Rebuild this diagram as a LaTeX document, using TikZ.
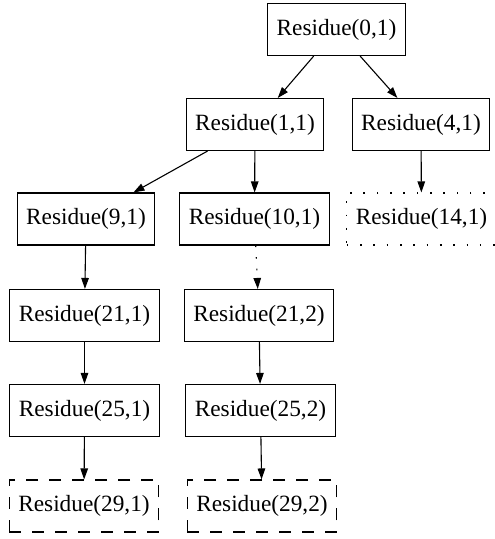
\documentclass[tikz,border=0pt]{standalone}
\usepackage{fontspec}
\setmainfont{Liberation Serif}
\usepackage{tikz}
\usetikzlibrary{arrows.meta}

\tikzset{
    res/.style={draw, line width=1.1pt, inner xsep=9pt, inner ysep=0pt,
        minimum height=52pt, font=\fontsize{23.3}{28}\selectfont},
    resdot/.style={res, dash pattern=on 1.6pt off 11.7pt},
    resdash/.style={res, dash pattern=on 12pt off 11pt},
    edge/.style={line width=1.1pt, -{Triangle[length=11pt,width=7.5pt]}},
    dotedge/.style={edge, dash pattern=on 1.6pt off 10pt}
}

\begin{document}
\begin{tikzpicture}[x=1pt, y=-1pt]
    \useasboundingbox (0,0) rectangle (495,539);

    % Nodes
    \node[res] (r01) at (336.5,29.5) {Residue(0,1)};
    \node[res] (r11) at (255,124.5) {Residue(1,1)};
    \node[res] (r41) at (421,124.5) {Residue(4,1)};

    \node[res] (r91) at (86,219) {Residue(9,1)};
    \node[res] (r101) at (254.5,219) {Residue(10,1)};
    \node[resdot] (r141) at (421.5,219) {Residue(14,1)};

    \node[res] (r211) at (84.5,315.5) {Residue(21,1)};
    \node[res] (r212) at (259,315.5) {Residue(21,2)};

    \node[res] (r251) at (84.5,410.5) {Residue(25,1)};
    \node[res] (r252) at (260.5,410.5) {Residue(25,2)};

    \node[resdash] (r291) at (84,506) {Residue(29,1)};
    \node[resdash] (r292) at (262,506) {Residue(29,2)};

    % Edges
    \draw[edge] (r01) -- (r11);
    \draw[edge] (r01) -- (r41);

    \draw[edge] (r11) -- (r91);
    \draw[edge] (r11) -- (r101);
    \draw[edge] (r41) -- (r141);

    \draw[edge] (r91) -- (r211);
    \draw[dotedge] (r101) -- (r212);

    \draw[edge] (r211) -- (r251);
    \draw[edge] (r212) -- (r252);

    \draw[edge] (r251) -- (r291);
    \draw[edge] (r252) -- (r292);
\end{tikzpicture}
\end{document}
